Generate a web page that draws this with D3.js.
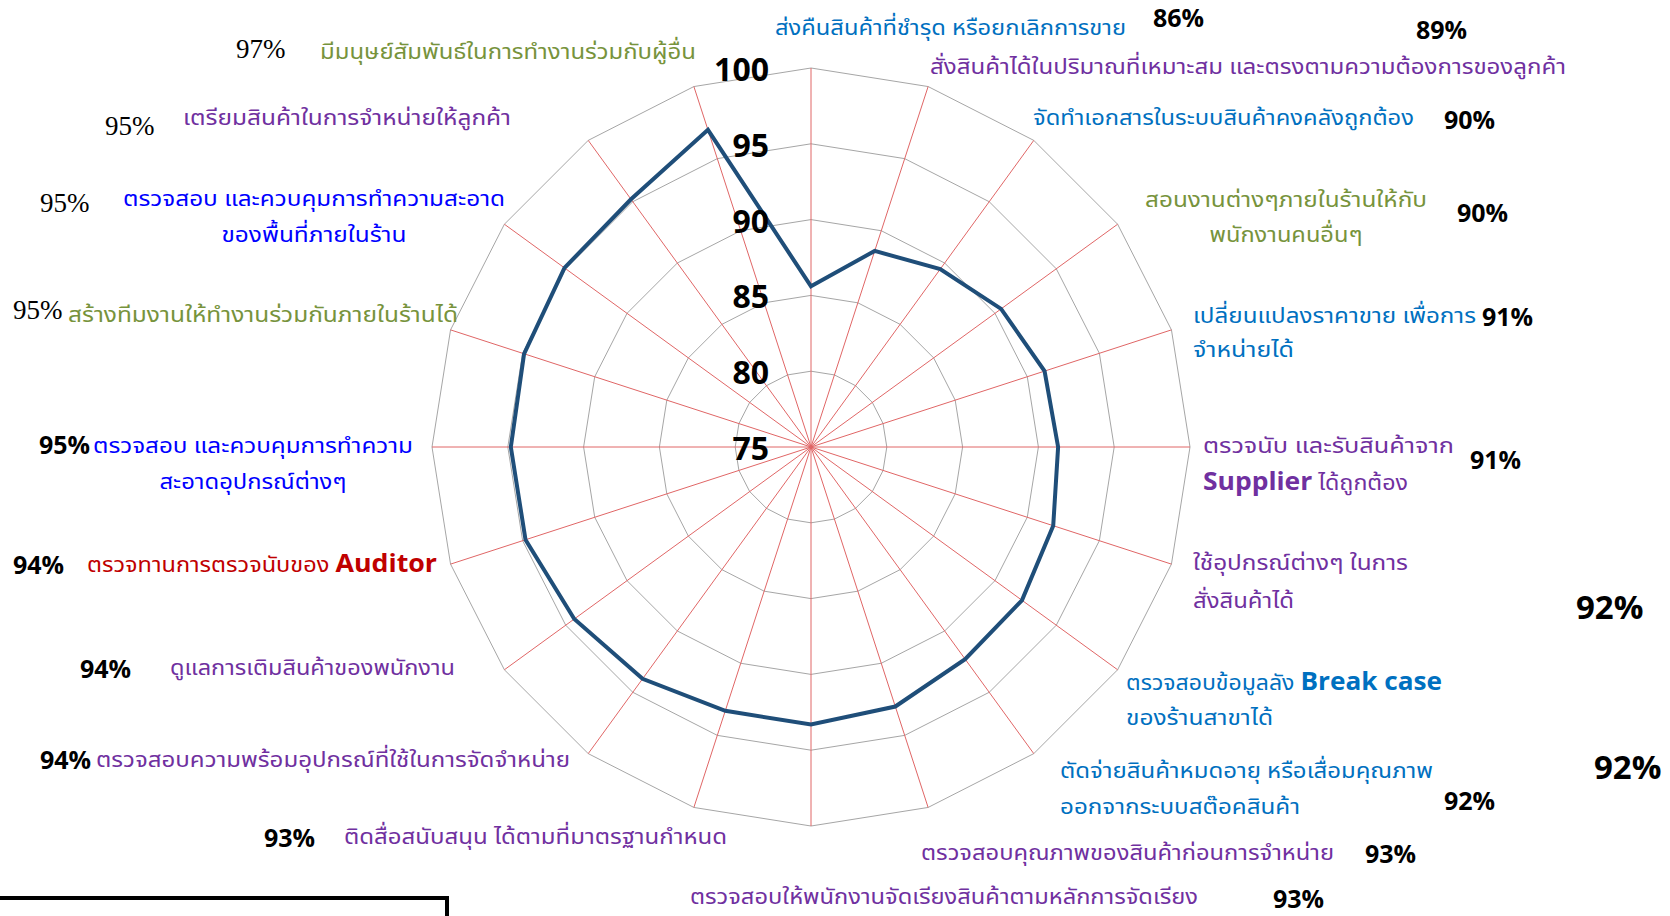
<!DOCTYPE html>
<html><head><meta charset="utf-8">
<script src="https://cdn.jsdelivr.net/npm/d3@7"></script>
<style>
html,body{margin:0;padding:0;background:#fff;overflow:hidden;}
svg{display:block;}
</style></head>
<body>
<svg id="chart" width="1670" height="916"></svg>
<script>
// ---------------- DATA ----------------
const categories = [
  "ส่งคืนสินค้าที่ชำรุด หรือยกเลิกการขาย",
  "สั่งสินค้าได้ในปริมาณที่เหมาะสม และตรงตามความต้องการของลูกค้า",
  "จัดทำเอกสารในระบบสินค้าคงคลังถูกต้อง",
  "สอนงานต่างๆภายในร้านให้กับ\nพนักงานคนอื่นๆ",
  "เปลี่ยนแปลงราคาขาย เพื่อการ\nจำหน่ายได้",
  "ตรวจนับ  และรับสินค้าจาก\nSupplier ได้ถูกต้อง",
  "ใช้อุปกรณ์ต่างๆ ในการ\nสั่งสินค้าได้",
  "ตรวจสอบข้อมูลลัง Break case\nของร้านสาขาได้",
  "ตัดจ่ายสินค้าหมดอายุ หรือเสื่อมคุณภาพ\nออกจากระบบสต๊อคสินค้า",
  "ตรวจสอบคุณภาพของสินค้าก่อนการจำหน่าย",
  "ตรวจสอบให้พนักงานจัดเรียงสินค้าตามหลักการจัดเรียง",
  "ติดสื่อสนับสนุน ได้ตามที่มาตรฐานกำหนด",
  "ตรวจสอบความพร้อมอุปกรณ์ที่ใช้ในการจัดจำหน่าย",
  "ดูแลการเติมสินค้าของพนักงาน",
  "ตรวจทานการตรวจนับของ Auditor",
  "ตรวจสอบ และควบคุมการทำความ\nสะอาดอุปกรณ์ต่างๆ",
  "สร้างทีมงานให้ทำงานร่วมกันภายในร้านได้",
  "ตรวจสอบ และควบคุมการทำความสะอาด\nของพื้นที่ภายในร้าน",
  "เตรียมสินค้าในการจำหน่ายให้ลูกค้า",
  "มีมนุษย์สัมพันธ์ในการทำงานร่วมกับผู้อื่น"
];
const values = [85.6, 88.6, 89.5, 90.5, 91.2, 91.3, 91.8, 92.2, 92.3, 93.0,
                93.3, 93.3, 93.9, 94.3, 94.8, 94.8, 94.9, 95.1, 95.2, 97.0];
const percentLabels = ["86%","89%","90%","90%","91%","91%","92%","92%","92%","93%",
                       "93%","93%","94%","94%","94%","95%","95%","95%","95%","97%"];
const tickValues = [75, 80, 85, 90, 95, 100];

// ---------------- LAYOUT (positions / styles) ----------------
const cx = 811, cy = 447, R = 379;
const BLUE = "#0070C0", PURPLE = "#7030A0", OLIVE = "#77933C", RED = "#C00000", PBLUE = "#0000FF";
// label layout: x, anchor, line centre ys, line widths, colour; pct: x, y, style
const labelLayout = [
  {x:775,  a:"start",  y:[27],      w:[351],     c:BLUE,   px:1153, py:18,  ps:"sans"},
  {x:930,  a:"start",  y:[66],      w:[636],     c:PURPLE, px:1416, py:30,  ps:"sans"},
  {x:1033, a:"start",  y:[117],     w:[381],     c:BLUE,   px:1444, py:120, ps:"sans"},
  {x:1286, a:"middle", y:[199,234], w:[282,153], c:OLIVE,  px:1457, py:213, ps:"sans"},
  {x:1193, a:"start",  y:[315,349], w:[283,101], c:BLUE,   px:1482, py:317, ps:"sans"},
  {x:1203, a:"start",  y:[445,482], w:[251,205], c:PURPLE, px:1470, py:460, ps:"sans"},
  {x:1193, a:"start",  y:[562,600], w:[215,101], c:PURPLE, px:1576, py:607, ps:"big"},
  {x:1126, a:"start",  y:[682,717], w:[316,147], c:BLUE,   px:1594, py:767, ps:"big"},
  {x:1060, a:"start",  y:[770,806], w:[373,240], c:BLUE,   px:1444, py:801, ps:"sans"},
  {x:921,  a:"start",  y:[852],     w:[413],     c:PURPLE, px:1365, py:854, ps:"sans"},
  {x:690,  a:"start",  y:[896],     w:[508],     c:PURPLE, px:1273, py:899, ps:"sans"},
  {x:344,  a:"start",  y:[836],     w:[383],     c:PURPLE, px:264,  py:838, ps:"sans"},
  {x:96,   a:"start",  y:[759],     w:[474],     c:PURPLE, px:40,   py:760, ps:"sans"},
  {x:170,  a:"start",  y:[667],     w:[285],     c:PURPLE, px:80,   py:669, ps:"sans"},
  {x:87,   a:"start",  y:[564],     w:[350],     c:RED,    px:13,   py:565, ps:"sans"},
  {x:253,  a:"middle", y:[445,481], w:[320,187], c:PBLUE,  px:39,   py:445, ps:"sans"},
  {x:68,   a:"start",  y:[314],     w:[390],     c:OLIVE,  px:13,   py:309, ps:"serif"},
  {x:314,  a:"middle", y:[198,234], w:[382,185], c:PBLUE,  px:40,   py:202, ps:"serif"},
  {x:183,  a:"start",  y:[117],     w:[328],     c:PURPLE, px:105,  py:125, ps:"serif"},
  {x:320,  a:"start",  y:[51],      w:[376],     c:OLIVE,  px:236,  py:48,  ps:"serif"}
];
const pctStyles = {
  sans:  {family:"'Open Sans', 'Liberation Sans', sans-serif", size:25, weight:700},
  big:   {family:"'Open Sans', 'Liberation Sans', sans-serif", size:33, weight:700},
  serif: {family:"'Liberation Serif', 'DejaVu Serif', serif", size:27, weight:400}
};
const thaiFont = "'Noto Sans Thai','Noto Sans Thai UI','Loma','Garuda','Norasi','Tlwg Typo','Laksaman','DejaVu Sans','Noto Sans',sans-serif";

// ---------------- DRAW ----------------
const svg = d3.select("#chart");
const n = categories.length;
const angle = d3.scaleLinear().domain([0, n]).range([0, 2 * Math.PI]);
const r = d3.scaleLinear().domain([75, 100]).range([0, R]);
const pt = (i, v) => [cx + r(v) * Math.sin(angle(i)), cy - r(v) * Math.cos(angle(i))];

const g = svg.append("g");

// grid rings (polygons)
const ringLine = d3.line();
g.selectAll(".ring").data(tickValues.filter(t => t > 75)).enter()
  .append("path").attr("class", "ring")
  .attr("d", t => ringLine(d3.range(n).map(i => pt(i, t))) + "Z")
  .attr("fill", "none").attr("stroke", "#A6A6A6").attr("stroke-width", 1);

// spokes
g.selectAll(".spoke").data(d3.range(n)).enter()
  .append("line").attr("class", "spoke")
  .attr("x1", cx).attr("y1", cy)
  .attr("x2", i => pt(i, 100)[0]).attr("y2", i => pt(i, 100)[1])
  .attr("stroke", "#E06666").attr("stroke-width", 1);

// data line
const radarLine = d3.lineRadial()
  .angle((d, i) => angle(i))
  .radius(d => r(d))
  .curve(d3.curveLinearClosed);
g.append("path").datum(values)
  .attr("transform", `translate(${cx},${cy})`)
  .attr("d", radarLine)
  .attr("fill", "none").attr("stroke", "#1F4E79").attr("stroke-width", 4)
  .attr("stroke-linejoin", "miter");

// tick labels
g.selectAll(".tick").data(tickValues).enter()
  .append("text").attr("class", "tick")
  .attr("x", cx - 42).attr("y", t => cy - r(t) + 13)
  .attr("text-anchor", "end")
  .attr("font-family", "'Open Sans','Liberation Sans',sans-serif")
  .attr("font-weight", 700).attr("font-size", 32).attr("fill", "#000")
  .text(t => t);

// category labels
categories.forEach((cat, i) => {
  const L = labelLayout[i];
  cat.split("\n").forEach((line, j) => {
    const t = svg.append("text")
      .attr("x", L.x).attr("y", L.y[j] + 8)
      .attr("text-anchor", L.a)
      .attr("font-family", thaiFont).attr("font-size", 22)
      .attr("fill", L.c)
      .attr("textLength", L.w[j]).attr("lengthAdjust", "spacingAndGlyphs");
    const parts = line.split(/([A-Za-z][A-Za-z ]*[A-Za-z])/);
    parts.forEach(p => {
      if (!p) return;
      const isLatin = /^[A-Za-z ]+$/.test(p);
      const ts = t.append("tspan").text(p);
      if (isLatin) ts.attr("font-family", "'Open Sans','Liberation Sans',sans-serif")
                     .attr("font-weight", 700).attr("font-size", 25);
    });
  });
  const S = pctStyles[L.ps];
  svg.append("text")
    .attr("x", L.px).attr("y", L.py + S.size * 0.36)
    .attr("font-family", S.family).attr("font-size", S.size).attr("font-weight", S.weight)
    .attr("fill", "#000").text(percentLabels[i]);
});

// black frame at bottom left
svg.append("path")
  .attr("d", d3.line()([[-10, 898], [447, 898], [447, 930]]))
  .attr("fill", "none").attr("stroke", "#000").attr("stroke-width", 4);
</script>
</body></html>
